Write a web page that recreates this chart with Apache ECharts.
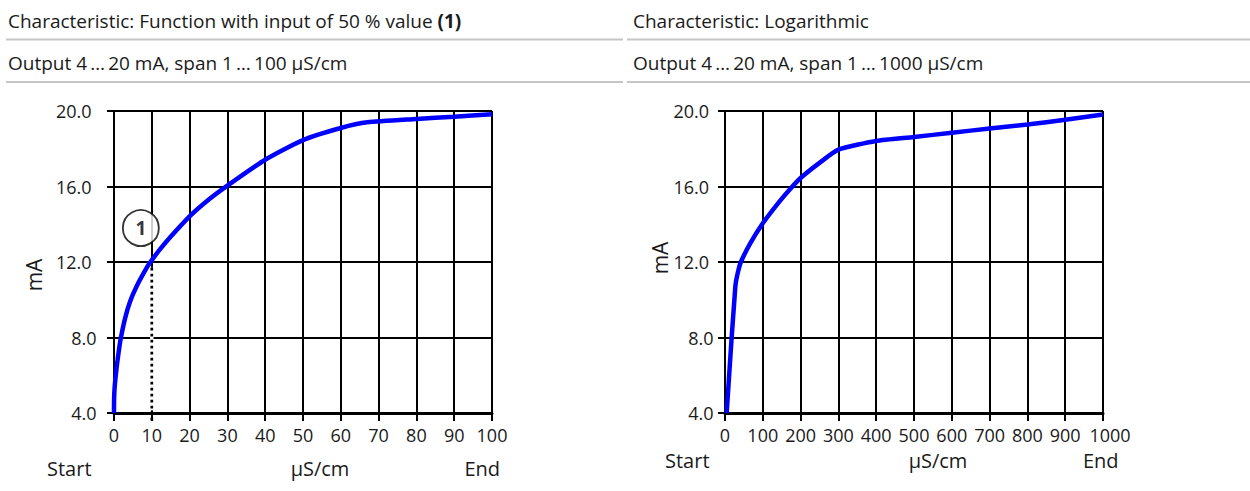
<!DOCTYPE html>
<html>
<head>
<meta charset="utf-8">
<script src="https://cdn.jsdelivr.net/npm/echarts@6/dist/echarts.min.js"></script>
<style>
html,body{margin:0;padding:0;background:#ffffff;}
#chart{width:1250px;height:491px;}
</style>
</head>
<body>
<div id="chart"></div>
<script>
// ---------- data ----------
const headerLeft = 'Characteristic: Function with input of 50 % value ';
const headerLeftBold = '(1)';
const subLeft = 'Output 4\u2009…\u200920 mA, span 1\u2009…\u2009100 µS/cm';
const headerRight = 'Characteristic: Logarithmic';
const subRight = 'Output 4\u2009…\u200920 mA, span 1\u2009…\u20091000 µS/cm';
const yAxisName = 'mA';
const xAxisName = 'µS/cm';
const startLabel = 'Start';
const endLabel = 'End';

const yMin = 4, yMax = 20, yStep = 4;
const leftXMax = 100, leftXStep = 10;
const rightXMax = 1000, rightXStep = 100;

// left curve: function with 50 % value at 10 µS/cm
const leftX = [0, 0.02, 0.18, 0.71, 1.32, 1.76, 2.91, 4.23, 6.0, 8.9, 10, 12.2, 14.8, 20, 25, 30, 40, 50, 60, 67, 80, 90, 100];
const leftY = [4.0, 4.67, 5.38, 6.43, 7.35, 7.92, 9.0, 9.9, 10.72, 11.78, 12.1, 12.68, 13.3, 14.42, 15.3, 16.05, 17.42, 18.46, 19.1, 19.4, 19.58, 19.7, 19.83];

// right curve: logarithmic
const rightX = [4.4, 17.6, 24.7, 28.2, 35.3, 42, 66, 100, 146, 176, 200, 250, 300, 400, 500, 600, 700, 800, 900, 1000];
const rightY = [4.0, 8.0, 9.96, 10.85, 11.55, 12.0, 12.96, 14.05, 15.25, 15.95, 16.45, 17.25, 17.95, 18.41, 18.62, 18.85, 19.07, 19.28, 19.54, 19.81];

// 50 % value marker (1)
const fiftyX = 10;
const fiftyTopY = 11.7;
const fiftyBottomY = 3.6;
const calloutPoint = [7.1, 13.8];
const calloutText = '1';

// ---------- chart ----------
const FONT = "'Open Sans', 'Noto Sans', sans-serif";
const TXT = '#1a1a1a';

function zip(a, b) { return a.map((v, i) => [v, b[i]]); }

function xAxisCfg(gi, max, step, maxPad) {
  const st = { fontSize: 18, fontFamily: FONT, color: TXT };
  return {
    gridIndex: gi, type: 'value', min: 0, max: max, interval: step,
    axisLine: { show: true, onZero: false, lineStyle: { color: '#000', width: 3 } },
    axisTick: { show: true, length: 8, lineStyle: { color: '#000', width: 2 } },
    axisLabel: {
      show: true, showMinLabel: true, showMaxLabel: true, hideOverlap: false,
      fontSize: 18, fontFamily: FONT, color: TXT, margin: 13,
      formatter: v => (v === max && maxPad ? '{m|' + v + '}' : String(v)),
      rich: { m: Object.assign({ padding: [0, 0, 0, maxPad || 0] }, st) }
    },
    splitLine: { show: true, lineStyle: { color: '#000', width: 2 } }
  };
}
function yAxisCfg(gi, margin, pad) {
  const st = { fontSize: 18, fontFamily: FONT, color: TXT };
  return {
    gridIndex: gi, type: 'value', min: yMin, max: yMax, interval: yStep,
    axisLine: { show: true, onZero: false, lineStyle: { color: '#000', width: 2 } },
    axisTick: { show: true, length: 7, lineStyle: { color: '#000', width: 2 } },
    axisLabel: {
      show: true, margin: margin, fontSize: 18, fontFamily: FONT, color: TXT,
      formatter: v => (v >= 10 ? '{w|' : '{n|') + v.toFixed(1) + '}',
      rich: { w: Object.assign({ padding: [0, pad, 0, 0] }, st), n: Object.assign({}, st) }
    },
    splitLine: { show: true, lineStyle: { color: '#000', width: 2 } }
  };
}

function txt(x, y, text, size, align, extra) {
  return Object.assign({
    type: 'text', x: x, y: y, silent: true,
    style: { text: text, fontSize: size, fontFamily: FONT, fill: TXT, align: align, verticalAlign: 'middle' }
  }, extra || {});
}
function hline(x1, x2, y) {
  return { type: 'line', silent: true, shape: { x1: x1, y1: y, x2: x2, y2: y }, style: { stroke: '#c6c6c6', lineWidth: 2 } };
}

const chart = echarts.init(document.getElementById('chart'), null, { renderer: 'svg' });
chart.setOption({
  animation: false,
  backgroundColor: '#ffffff',
  grid: [
    { left: 114, top: 111, width: 378, height: 302 },
    { left: 725, top: 111, width: 378, height: 302 }
  ],
  xAxis: [xAxisCfg(0, leftXMax, leftXStep, 0), xAxisCfg(1, rightXMax, rightXStep, 14)],
  yAxis: [yAxisCfg(0, 17.5, 5), yAxisCfg(1, 11.5, 4.5)],
  series: [
    {
      type: 'line', xAxisIndex: 0, yAxisIndex: 0, z: 3, silent: true,
      data: [[fiftyX, yMin + 0.15], [fiftyX, fiftyTopY]], showSymbol: false,
      lineStyle: { color: '#ffffff', width: 3.5 }
    },
    {
      type: 'line', xAxisIndex: 0, yAxisIndex: 0, z: 4, silent: true, clip: false,
      data: [[fiftyX, fiftyBottomY], [fiftyX, fiftyTopY]], showSymbol: false,
      lineStyle: { color: '#000', width: 2.7, type: [2.7, 3.3] }
    },
    {
      type: 'line', xAxisIndex: 0, yAxisIndex: 0, z: 5, silent: true,
      data: zip(leftX, leftY), showSymbol: false, smooth: 0.2,
      lineStyle: { color: '#0000ff', width: 4.5 }
    },
    {
      type: 'scatter', xAxisIndex: 0, yAxisIndex: 0, z: 6, silent: true,
      data: [calloutPoint], symbol: 'circle', symbolSize: 36,
      itemStyle: { color: '#ffffff', borderColor: '#000', borderWidth: 1.8 },
      label: { show: true, position: 'inside', formatter: calloutText, fontSize: 19, fontWeight: 'bold', fontFamily: FONT, color: '#000' }
    },
    {
      type: 'line', xAxisIndex: 1, yAxisIndex: 1, z: 5, silent: true,
      data: zip(rightX, rightY), showSymbol: false, smooth: 0.2,
      lineStyle: { color: '#0000ff', width: 4.5 }
    }
  ],
  graphic: [
    {
      type: 'text', x: 8, y: 21, silent: true,
      style: {
        text: headerLeft + '{b|' + headerLeftBold + '}', fontSize: 19, fontFamily: FONT, fill: TXT, verticalAlign: 'middle', align: 'left',
        rich: { b: { fontSize: 19, fontFamily: FONT, fontWeight: 'bold', fill: TXT } }
      }
    },
    txt(8, 63, subLeft, 19, 'left'),
    txt(633, 21, headerRight, 19, 'left'),
    txt(633, 63, subRight, 19, 'left'),
    hline(6, 623, 39.5), hline(6, 623, 82),
    hline(627, 1250, 39.5), hline(627, 1250, 82),
    txt(33.5, 275, yAxisName, 21, 'center', { rotation: Math.PI / 2 }),
    txt(660, 258, yAxisName, 21, 'center', { rotation: Math.PI / 2 }),
    txt(47, 468, startLabel, 20, 'left'),
    txt(320, 468, xAxisName, 20, 'center'),
    txt(500, 468, endLabel, 20, 'right'),
    txt(665, 460, startLabel, 20, 'left'),
    txt(938, 460, xAxisName, 20, 'center'),
    txt(1118.5, 460, endLabel, 20, 'right')
  ]
});
</script>
</body>
</html>
